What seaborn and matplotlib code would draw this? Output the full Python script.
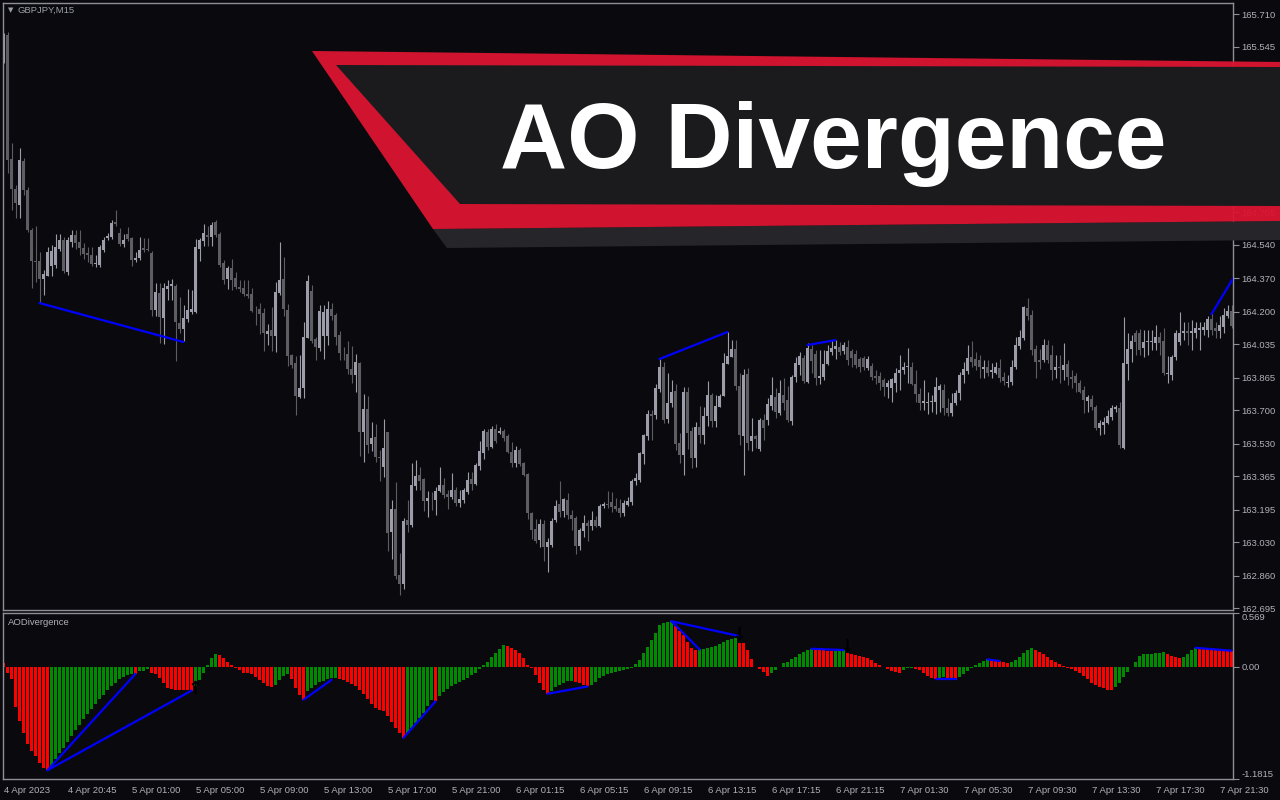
"""GBPJPY M15 con el indicador AO Divergence (captura estilo MetaTrader)."""

import matplotlib
matplotlib.use("Agg")
import matplotlib.pyplot as plt
from matplotlib.patches import Polygon
import numpy as np
import pandas as pd
import seaborn as sns


# ---------------------------------------------------------------------------
# Datos (vela 15 min, índice 0 = 4 Apr 2023 16:45)
# ---------------------------------------------------------------------------
opens = [
    165.512, 165.603, 164.974, 164.822, 164.740, 164.964, 164.817, 164.614, 164.456, 164.456,
    164.365, 164.380, 164.431, 164.436, 164.517, 164.563, 164.400, 164.553, 164.588, 164.553,
    164.522, 164.497, 164.487, 164.441, 164.436, 164.512, 164.573, 164.578, 164.654, 164.598,
    164.543, 164.593, 164.573, 164.461, 164.471, 164.522, 164.517, 164.497, 164.208, 164.294,
    164.167, 164.314, 164.329, 164.329, 164.141, 164.111, 164.162, 164.197, 164.197, 164.517,
    164.558, 164.588, 164.578, 164.654, 164.593, 164.446, 164.365, 164.421, 164.370, 164.324,
    164.319, 164.289, 164.289, 164.208, 164.213, 164.192, 164.086, 164.106, 164.076, 164.294,
    164.365, 164.208, 163.979, 163.939, 163.766, 163.811, 164.065, 164.304, 164.060, 164.015,
    164.076, 164.076, 164.213, 164.182, 164.081, 163.989, 163.984, 163.908, 163.878, 163.939,
    163.588, 163.705, 163.527, 163.563, 163.461, 163.410, 163.588, 163.081, 163.197, 162.862,
    162.817, 163.142, 163.116, 163.314, 163.370, 163.350, 163.238, 163.248, 163.243, 163.289,
    163.319, 163.273, 163.258, 163.294, 163.228, 163.243, 163.284, 163.350, 163.324, 163.416,
    163.482, 163.588, 163.512, 163.603, 163.583, 163.593, 163.568, 163.487, 163.431, 163.497,
    163.431, 163.375, 163.177, 163.096, 163.040, 163.121, 163.004, 163.015, 163.142, 163.223,
    163.187, 163.243, 163.167, 163.152, 163.010, 163.086, 163.126, 163.111, 163.142, 163.111,
    163.213, 163.223, 163.233, 163.213, 163.203, 163.177, 163.218, 163.233, 163.340, 163.345,
    163.477, 163.568, 163.680, 163.675, 163.806, 163.918, 163.654, 163.735, 163.796, 163.532,
    163.471, 163.791, 163.593, 163.456, 163.614, 163.573, 163.669, 163.776, 163.644, 163.715,
    163.771, 163.933, 163.969, 164.010, 163.822, 163.568, 163.883, 163.542, 163.568, 163.502,
    163.649, 163.649, 163.720, 163.766, 163.685, 163.776, 163.751, 163.644, 163.867, 163.928,
    163.964, 163.842, 164.010, 163.984, 163.862, 163.867, 163.933, 163.994, 164.010, 164.020,
    163.999, 164.020, 163.999, 163.984, 163.959, 163.964, 163.913, 163.923, 163.872, 163.872,
    163.852, 163.817, 163.811, 163.837, 163.888, 163.903, 163.918, 163.918, 163.832, 163.781,
    163.735, 163.735, 163.740, 163.740, 163.801, 163.801, 163.710, 163.685, 163.735, 163.786,
    163.878, 163.898, 163.969, 163.959, 163.954, 163.908, 163.918, 163.893, 163.888, 163.913,
    163.867, 163.837, 163.842, 163.918, 164.025, 164.065, 164.218, 164.182, 164.010, 163.954,
    163.954, 164.030, 163.979, 163.903, 163.918, 163.903, 163.933, 163.867, 163.872, 163.837,
    163.801, 163.745, 163.756, 163.715, 163.608, 163.624, 163.634, 163.664, 163.705, 163.710,
    163.507, 163.933, 164.010, 164.091, 164.091, 164.015, 164.045, 164.045, 164.040, 164.070,
    164.050, 163.883, 163.878, 163.969, 164.045, 164.091, 164.101, 164.091, 164.091, 164.106,
    164.106, 164.106, 164.162, 164.116, 164.101, 164.121, 164.177, 164.202,
]
closes = [
    165.603, 164.969, 164.822, 164.751, 164.969, 164.817, 164.614, 164.456, 164.451, 164.365,
    164.390, 164.502, 164.507, 164.527, 164.563, 164.405, 164.563, 164.588, 164.548, 164.522,
    164.492, 164.487, 164.441, 164.446, 164.527, 164.563, 164.583, 164.649, 164.644, 164.543,
    164.563, 164.568, 164.461, 164.471, 164.512, 164.512, 164.512, 164.208, 164.299, 164.172,
    164.319, 164.329, 164.340, 164.147, 164.111, 164.167, 164.208, 164.213, 164.527, 164.563,
    164.598, 164.578, 164.639, 164.588, 164.436, 164.360, 164.421, 164.360, 164.324, 164.314,
    164.289, 164.279, 164.202, 164.206, 164.187, 164.091, 164.101, 164.076, 164.299, 164.360,
    164.213, 163.974, 163.928, 163.771, 163.811, 164.070, 164.355, 164.050, 164.020, 164.202,
    164.197, 164.213, 164.177, 164.070, 163.989, 163.987, 163.908, 163.878, 163.944, 163.588,
    163.705, 163.522, 163.558, 163.461, 163.459, 163.507, 163.076, 163.197, 162.857, 162.817,
    163.136, 163.116, 163.319, 163.365, 163.340, 163.238, 163.253, 163.246, 163.289, 163.319,
    163.268, 163.258, 163.294, 163.228, 163.248, 163.294, 163.345, 163.324, 163.421, 163.492,
    163.593, 163.512, 163.603, 163.542, 163.593, 163.558, 163.487, 163.431, 163.497, 163.426,
    163.370, 163.177, 163.091, 163.035, 163.121, 163.004, 163.030, 163.136, 163.213, 163.182,
    163.248, 163.167, 163.147, 163.010, 163.091, 163.126, 163.111, 163.142, 163.111, 163.213,
    163.223, 163.220, 163.208, 163.197, 163.177, 163.228, 163.238, 163.340, 163.355, 163.482,
    163.573, 163.680, 163.669, 163.811, 163.918, 163.649, 163.735, 163.791, 163.527, 163.471,
    163.791, 163.583, 163.456, 163.614, 163.573, 163.669, 163.776, 163.644, 163.720, 163.771,
    163.939, 163.974, 164.010, 163.822, 163.573, 163.878, 163.532, 163.568, 163.553, 163.649,
    163.608, 163.730, 163.776, 163.690, 163.786, 163.735, 163.649, 163.867, 163.939, 163.974,
    163.847, 164.015, 163.949, 163.862, 163.872, 163.933, 163.999, 164.015, 164.025, 163.994,
    164.030, 163.954, 163.964, 163.928, 163.918, 163.918, 163.959, 163.867, 163.862, 163.837,
    163.817, 163.837, 163.857, 163.888, 163.903, 163.918, 163.923, 163.832, 163.781, 163.735,
    163.745, 163.743, 163.745, 163.817, 163.822, 163.710, 163.685, 163.735, 163.786, 163.878,
    163.908, 163.964, 163.944, 163.923, 163.918, 163.918, 163.888, 163.903, 163.918, 163.862,
    163.847, 163.842, 163.918, 164.030, 164.070, 164.223, 164.177, 164.005, 163.944, 163.944,
    164.030, 163.954, 163.903, 163.918, 163.913, 163.928, 163.867, 163.857, 163.837, 163.791,
    163.751, 163.766, 163.715, 163.608, 163.634, 163.639, 163.669, 163.710, 163.715, 163.522,
    163.939, 164.010, 164.050, 164.045, 164.005, 164.045, 164.050, 164.050, 164.070, 164.040,
    163.888, 163.888, 163.969, 164.091, 164.091, 164.101, 164.091, 164.101, 164.116, 164.116,
    164.121, 164.162, 164.106, 164.101, 164.131, 164.182, 164.202, 164.126,
]
highs = [
    165.613, 165.619, 165.055, 164.842, 165.030, 164.979, 164.832, 164.624, 164.634, 164.502,
    164.411, 164.527, 164.537, 164.593, 164.593, 164.578, 164.578, 164.614, 164.614, 164.614,
    164.548, 164.527, 164.527, 164.487, 164.537, 164.578, 164.598, 164.664, 164.715, 164.624,
    164.593, 164.629, 164.578, 164.502, 164.578, 164.573, 164.573, 164.507, 164.345, 164.345,
    164.345, 164.360, 164.365, 164.340, 164.273, 164.233, 164.314, 164.309, 164.568, 164.573,
    164.644, 164.634, 164.654, 164.664, 164.603, 164.461, 164.431, 164.466, 164.400, 164.360,
    164.360, 164.360, 164.319, 164.228, 164.243, 164.218, 164.136, 164.223, 164.350, 164.553,
    164.476, 164.238, 163.984, 163.974, 163.979, 164.147, 164.385, 164.334, 164.070, 164.233,
    164.233, 164.253, 164.243, 164.192, 164.101, 164.020, 164.050, 164.025, 163.984, 163.944,
    163.781, 163.771, 163.639, 163.629, 163.497, 163.654, 163.588, 163.243, 163.334, 162.974,
    163.152, 163.243, 163.431, 163.446, 163.410, 163.355, 163.289, 163.284, 163.309, 163.410,
    163.355, 163.294, 163.380, 163.309, 163.294, 163.304, 163.385, 163.385, 163.431, 163.542,
    163.603, 163.603, 163.619, 163.629, 163.614, 163.603, 163.578, 163.537, 163.517, 163.507,
    163.436, 163.380, 163.182, 163.147, 163.147, 163.142, 163.050, 163.152, 163.243, 163.340,
    163.253, 163.279, 163.192, 163.162, 163.101, 163.167, 163.142, 163.187, 163.162, 163.223,
    163.233, 163.289, 163.284, 163.253, 163.248, 163.243, 163.258, 163.350, 163.380, 163.487,
    163.578, 163.700, 163.700, 163.832, 163.959, 163.944, 163.888, 163.852, 163.832, 163.583,
    163.817, 163.817, 163.614, 163.639, 163.720, 163.715, 163.847, 163.786, 163.776, 163.781,
    163.989, 164.096, 164.055, 164.055, 163.888, 163.908, 163.913, 163.659, 163.573, 163.659,
    163.680, 163.761, 163.867, 163.811, 163.852, 163.862, 163.822, 163.878, 163.969, 163.994,
    163.979, 164.040, 164.030, 164.005, 164.005, 164.005, 164.030, 164.055, 164.055, 164.045,
    164.045, 164.055, 164.010, 164.005, 163.969, 163.974, 163.974, 163.939, 163.903, 163.893,
    163.862, 163.852, 163.862, 163.913, 163.979, 163.944, 164.015, 163.944, 163.903, 163.811,
    163.852, 163.791, 163.776, 163.867, 163.832, 163.832, 163.761, 163.786, 163.801, 163.893,
    163.944, 164.030, 164.050, 163.994, 163.979, 163.954, 163.954, 163.939, 163.944, 163.959,
    163.893, 163.878, 163.954, 164.070, 164.106, 164.228, 164.268, 164.208, 164.030, 164.010,
    164.060, 164.055, 164.030, 163.979, 163.979, 164.040, 163.954, 163.903, 163.888, 163.852,
    163.822, 163.776, 163.776, 163.725, 163.649, 163.664, 163.700, 163.725, 163.725, 163.740,
    164.172, 164.091, 164.081, 164.106, 164.111, 164.106, 164.106, 164.106, 164.131, 164.096,
    164.116, 163.974, 163.979, 164.106, 164.197, 164.147, 164.147, 164.157, 164.147, 164.147,
    164.147, 164.177, 164.192, 164.147, 164.177, 164.218, 164.233, 164.233,
]
lows = [
    165.461, 164.903, 164.715, 164.674, 164.674, 164.791, 164.603, 164.319, 164.350, 164.243,
    164.284, 164.380, 164.380, 164.421, 164.507, 164.395, 164.385, 164.527, 164.517, 164.487,
    164.466, 164.451, 164.431, 164.426, 164.426, 164.502, 164.563, 164.568, 164.634, 164.532,
    164.527, 164.558, 164.431, 164.451, 164.461, 164.502, 164.507, 164.177, 164.177, 164.040,
    164.035, 164.258, 164.258, 163.949, 164.091, 164.050, 164.147, 164.187, 164.192, 164.456,
    164.532, 164.532, 164.532, 164.578, 164.426, 164.340, 164.314, 164.309, 164.314, 164.299,
    164.279, 164.268, 164.197, 164.131, 164.086, 163.999, 164.030, 163.999, 163.994, 164.284,
    164.177, 163.923, 163.913, 163.675, 163.761, 163.761, 164.065, 164.040, 163.954, 163.999,
    163.959, 164.030, 164.157, 164.030, 163.954, 163.954, 163.883, 163.837, 163.791, 163.466,
    163.436, 163.482, 163.492, 163.436, 163.340, 163.360, 162.984, 162.944, 162.842, 162.761,
    162.791, 163.081, 163.106, 163.294, 163.294, 163.187, 163.157, 163.192, 163.167, 163.284,
    163.253, 163.197, 163.248, 163.213, 163.208, 163.228, 163.273, 163.294, 163.319, 163.395,
    163.451, 163.497, 163.507, 163.532, 163.578, 163.542, 163.482, 163.410, 163.410, 163.416,
    163.365, 163.147, 163.045, 163.025, 163.004, 162.933, 162.877, 163.004, 163.131, 163.157,
    163.157, 163.147, 163.091, 162.969, 162.989, 163.055, 163.035, 163.091, 163.106, 163.106,
    163.203, 163.203, 163.182, 163.187, 163.157, 163.162, 163.213, 163.218, 163.319, 163.334,
    163.426, 163.547, 163.547, 163.654, 163.791, 163.634, 163.634, 163.715, 163.497, 163.431,
    163.370, 163.502, 163.405, 163.410, 163.532, 163.527, 163.619, 163.614, 163.614, 163.715,
    163.771, 163.933, 163.969, 163.801, 163.522, 163.370, 163.497, 163.492, 163.507, 163.492,
    163.547, 163.624, 163.700, 163.659, 163.675, 163.700, 163.639, 163.624, 163.842, 163.878,
    163.837, 163.837, 163.888, 163.827, 163.832, 163.852, 163.928, 163.979, 163.959, 163.979,
    163.984, 163.928, 163.918, 163.913, 163.893, 163.903, 163.903, 163.852, 163.832, 163.801,
    163.771, 163.761, 163.740, 163.791, 163.801, 163.883, 163.837, 163.827, 163.740, 163.700,
    163.700, 163.680, 163.690, 163.680, 163.690, 163.675, 163.669, 163.669, 163.725, 163.751,
    163.837, 163.883, 163.918, 163.903, 163.862, 163.862, 163.872, 163.862, 163.883, 163.842,
    163.827, 163.817, 163.827, 163.908, 164.010, 164.055, 164.157, 163.979, 163.862, 163.908,
    163.944, 163.939, 163.852, 163.862, 163.837, 163.852, 163.827, 163.811, 163.791, 163.786,
    163.685, 163.690, 163.700, 163.598, 163.573, 163.578, 163.629, 163.649, 163.690, 163.507,
    163.502, 163.852, 163.944, 163.979, 163.979, 163.969, 163.979, 164.005, 164.005, 163.979,
    163.878, 163.837, 163.852, 163.954, 164.030, 164.055, 164.030, 164.005, 164.065, 164.005,
    164.081, 164.070, 164.081, 164.065, 164.065, 164.091, 164.167, 164.116,
]
ao_values = [
    0.045, -0.066, -0.129, -0.426, -0.572, -0.695, -0.817, -0.887, -0.939, -1.009,
    -1.061, -1.089, -1.044, -0.974, -0.911, -0.852, -0.792, -0.729, -0.667, -0.607,
    -0.548, -0.492, -0.440, -0.387, -0.339, -0.293, -0.248, -0.206, -0.164, -0.129,
    -0.101, -0.080, -0.070, -0.073, -0.045, -0.038, -0.024, -0.059, -0.073, -0.119,
    -0.171, -0.223, -0.234, -0.241, -0.244, -0.246, -0.248, -0.250, -0.199, -0.136,
    -0.059, 0.017, 0.091, 0.136, 0.126, 0.091, 0.056, 0.021, -0.014, -0.031,
    -0.059, -0.066, -0.073, -0.108, -0.136, -0.171, -0.199, -0.213, -0.188, -0.136,
    -0.094, -0.073, -0.129, -0.223, -0.293, -0.346, -0.258, -0.223, -0.188, -0.161,
    -0.143, -0.129, -0.119, -0.112, -0.122, -0.136, -0.154, -0.178, -0.206, -0.241,
    -0.283, -0.335, -0.387, -0.433, -0.450, -0.461, -0.520, -0.583, -0.642, -0.695,
    -0.747, -0.695, -0.642, -0.590, -0.538, -0.485, -0.415, -0.346, -0.363, -0.311,
    -0.269, -0.234, -0.206, -0.182, -0.161, -0.136, -0.112, -0.084, -0.059, -0.024,
    0.017, 0.056, 0.101, 0.143, 0.185, 0.230, 0.223, 0.195, 0.178, 0.143,
    0.091, 0.021, -0.007, -0.084, -0.171, -0.241, -0.283, -0.258, -0.213, -0.188,
    -0.164, -0.147, -0.143, -0.157, -0.171, -0.192, -0.206, -0.188, -0.154, -0.119,
    -0.094, -0.073, -0.059, -0.049, -0.038, -0.031, -0.024, -0.007, 0.031, 0.073,
    0.143, 0.213, 0.283, 0.363, 0.440, 0.464, 0.475, 0.482, 0.429, 0.380,
    0.342, 0.265, 0.195, 0.178, 0.185, 0.192, 0.202, 0.213, 0.223, 0.241,
    0.258, 0.283, 0.297, 0.307, 0.255, 0.248, 0.178, 0.080, 0.003, -0.021,
    -0.052, -0.094, -0.059, -0.031, 0.003, 0.038, 0.056, 0.080, 0.108, 0.136,
    0.161, 0.178, 0.192, 0.185, 0.178, 0.175, 0.168, 0.164, 0.171, 0.178,
    0.185, 0.143, 0.133, 0.126, 0.115, 0.101, 0.091, 0.073, 0.045, 0.021,
    0.003, -0.021, -0.042, -0.056, -0.059, -0.031, -0.014, -0.007, -0.017, -0.031,
    -0.059, -0.094, -0.119, -0.129, -0.119, -0.108, -0.122, -0.126, -0.133, -0.101,
    -0.073, -0.038, -0.007, 0.021, 0.045, 0.066, 0.080, 0.073, 0.066, 0.063,
    0.052, 0.045, 0.052, 0.073, 0.108, 0.143, 0.178, 0.195, 0.178, 0.161,
    0.133, 0.101, 0.073, 0.052, 0.031, 0.014, -0.010, -0.024, -0.042, -0.059,
    -0.094, -0.129, -0.164, -0.192, -0.213, -0.227, -0.241, -0.248, -0.213, -0.164,
    -0.108, -0.049, 0.003, 0.056, 0.115, 0.133, 0.136, 0.140, 0.143, 0.150,
    0.154, 0.133, 0.115, 0.101, 0.091, 0.108, 0.136, 0.178, 0.202, 0.199,
    0.195, 0.192, 0.188, 0.185, 0.181, 0.178, 0.175, 0.171,
]

# Líneas de divergencia: (barra inicial, barra final) y (valor inicial, valor final)
price_div_bars = [(9, 45), (164, 181), (201, 208), (302, 307.4)]
price_div_levels = [(164.243, 164.045), (163.959, 164.096), (164.030, 164.055), (164.187, 164.368)]
ao_div_bars = [(11, 33), (11, 47), (75, 82), (100, 108), (136, 146), (167, 184),
               (167, 174), (202, 210), (233, 238), (246, 249), (298, 307)]
ao_div_levels = [(-1.089, -0.073), (-1.089, -0.250), (-0.346, -0.136), (-0.747, -0.363),
                 (-0.283, -0.206), (0.482, 0.325), (0.482, 0.185), (0.192, 0.178),
                 (-0.122, -0.122), (0.080, 0.063), (0.202, 0.171)]
signal_bars = [48, 184, 211]
signal_levels = [-0.23, 0.34, 0.21]
signal_marks = ["↑", "↓", "↓"]

price_ticks = [165.710, 165.545, 165.375, 165.210, 165.040, 164.875, 164.705, 164.540,
               164.370, 164.200, 164.035, 163.865, 163.700, 163.530, 163.365, 163.195,
               163.030, 162.860, 162.695]
time_tick_bars = [0, 16, 32, 48, 64, 80, 96, 112, 128, 144, 160, 176, 192, 208, 224,
                  240, 256, 272, 288, 304]
time_tick_labels = ["4 Apr 2023", "4 Apr 20:45", "5 Apr 01:00", "5 Apr 05:00",
                    "5 Apr 09:00", "5 Apr 13:00", "5 Apr 17:00", "5 Apr 21:00",
                    "6 Apr 01:15", "6 Apr 05:15", "6 Apr 09:15", "6 Apr 13:15",
                    "6 Apr 17:15", "6 Apr 21:15", "7 Apr 01:30", "7 Apr 05:30",
                    "7 Apr 09:30", "7 Apr 13:30", "7 Apr 17:30", "7 Apr 21:30"]

# ---------------------------------------------------------------------------
# Paleta
# ---------------------------------------------------------------------------
FONDO = "#0a0a0e"
MARCO = "#8e8e96"
TEXTO = "#b0b0b8"
ALCISTA = "#9c9cab"
BAJISTA = "#5d5d63"
AO_SUBE = "#008a00"
AO_BAJA = "#ff0000"
AZUL = "#0000ff"
ROJO_BANNER = "#dc1430"
GRIS_BANNER = "#1b1b1e"
FRANJA_BANNER = "#26262a"

sns.set_theme(style="dark", rc={
    "axes.facecolor": FONDO,
    "figure.facecolor": FONDO,
    "axes.edgecolor": MARCO,
    "axes.linewidth": 1.0,
    "axes.grid": False,
    "xtick.color": MARCO,
    "ytick.color": MARCO,
})
plt.rcParams["font.family"] = ["Liberation Sans", "DejaVu Sans"]

W, H = 1280, 800


def rect_px(x0, y0, x1, y1):
    """Rectángulo en píxeles de la imagen -> coordenadas de figura."""
    return [x0 / W, 1 - y1 / H, (x1 - x0) / W, (y1 - y0) / H]


fig = plt.figure(figsize=(12.8, 8), dpi=100)
ax = fig.add_axes(rect_px(3, 3, 1233, 610))
ax_ao = fig.add_axes(rect_px(3, 613, 1233, 779))

# ---------------------------------------------------------------------------
# Velas
# ---------------------------------------------------------------------------
o = np.array(opens)
c = np.array(closes)
hi = np.array(highs)
lo = np.array(lows)
idx = np.arange(len(c))
colores = np.where(c >= o, ALCISTA, BAJISTA)

ax.vlines(idx, lo, hi, colors=colores, linewidth=0.8, zorder=2)
ax.bar(idx, np.maximum(np.abs(c - o), 0.004), bottom=np.minimum(o, c), width=0.8,
       color=colores, linewidth=0, antialiased=False, zorder=2)
for (b0, b1), (p0, p1) in zip(price_div_bars, price_div_levels):
    ax.plot([b0, b1], [p0, p1], color=AZUL, linewidth=1.6, zorder=3)

ax.set_xlim(-0.125, 307.375)
ax.set_ylim(162.685, 165.766)
ax.set_xticks([])
ax.yaxis.tick_right()
ax.set_yticks(price_ticks)
ax.set_yticklabels([f"{v:.3f}" for v in price_ticks])
ax.tick_params(axis="y", length=4, width=0.8, pad=2, labelsize=6.8, labelcolor=TEXTO)
for s in ax.spines.values():
    s.set_color(MARCO)

fig.text(8 / W, 1 - 10 / H, "▼", fontsize=5, color="#9aa0aa", va="center",
         family="DejaVu Sans")
fig.text(18 / W, 1 - 10 / H, "GBPJPY,M15", fontsize=6.8, color="#9aa0aa", va="center")

# ---------------------------------------------------------------------------
# Histograma AO
# ---------------------------------------------------------------------------
ao = np.array(ao_values)
sentido = np.where(np.diff(ao, prepend=ao[0]) > 0, "sube", "baja")
df_ao = pd.DataFrame({"barra": idx, "ao": ao, "sentido": sentido})
sns.barplot(data=df_ao, x="barra", y="ao", hue="sentido",
            palette={"sube": AO_SUBE, "baja": AO_BAJA}, native_scale=True,
            dodge=False, width=0.75, saturation=1, errorbar=None, legend=False,
            linewidth=0, ax=ax_ao)
for (b0, b1), (v0, v1) in zip(ao_div_bars, ao_div_levels):
    ax_ao.plot([b0, b1], [v0, v1], color=AZUL, linewidth=1.6, zorder=4)
for b, v, m in zip(signal_bars, signal_levels, signal_marks):
    ax_ao.text(b, v, m, color="black", fontsize=13, fontweight="bold", ha="center",
               va="center", family="DejaVu Sans", zorder=5)

ax_ao.set_xlim(-0.125, 307.375)
ax_ao.set_ylim(-1.1815, 0.569)
ax_ao.set_xlabel("")
ax_ao.set_ylabel("")
ax_ao.yaxis.tick_right()
ax_ao.set_yticks([0.569, 0.0, -1.1815])
ax_ao.set_yticklabels(["0.569", "0.00", "-1.1815"])
ax_ao.tick_params(axis="y", length=4, width=0.8, pad=2, labelsize=6.8, labelcolor=TEXTO)
etiquetas = ax_ao.get_yticklabels()
etiquetas[0].set_va("top")
etiquetas[2].set_va("bottom")
ax_ao.set_xticks(time_tick_bars)
ax_ao.set_xticklabels(time_tick_labels)
ax_ao.tick_params(axis="x", length=4, width=0.8, pad=1, labelsize=6.8, labelcolor=TEXTO)
for lab in ax_ao.get_xticklabels():
    lab.set_ha("left")
for s in ax_ao.spines.values():
    s.set_color(MARCO)
ax_ao.text(0.004, 0.945, "AODivergence", transform=ax_ao.transAxes, fontsize=6.8,
           color=TEXTO, va="center", ha="left")

# ---------------------------------------------------------------------------
# Cartel "AO Divergence"
# ---------------------------------------------------------------------------
ax_cartel = fig.add_axes([0, 0, 1, 1], zorder=10)
ax_cartel.set_xlim(0, W)
ax_cartel.set_ylim(H, 0)
ax_cartel.axis("off")
ax_cartel.patch.set_alpha(0)
ax_cartel.add_patch(Polygon([(433, 229), (1280, 221), (1280, 240), (447, 248)],
                            closed=True, color=FRANJA_BANNER, linewidth=0))
ax_cartel.add_patch(Polygon([(312, 51), (1280, 62), (1280, 221), (433, 229)],
                            closed=True, color=ROJO_BANNER, alpha=0.95, linewidth=0))
ax_cartel.add_patch(Polygon([(336, 65), (1280, 67), (1280, 206), (460, 204)],
                            closed=True, color=GRIS_BANNER, linewidth=0))
ax_cartel.text(833, 168, "AO Divergence", ha="center", va="baseline", fontsize=67,
               fontweight="bold", color="white")

fig.savefig("out.png", dpi=100, facecolor=FONDO)
